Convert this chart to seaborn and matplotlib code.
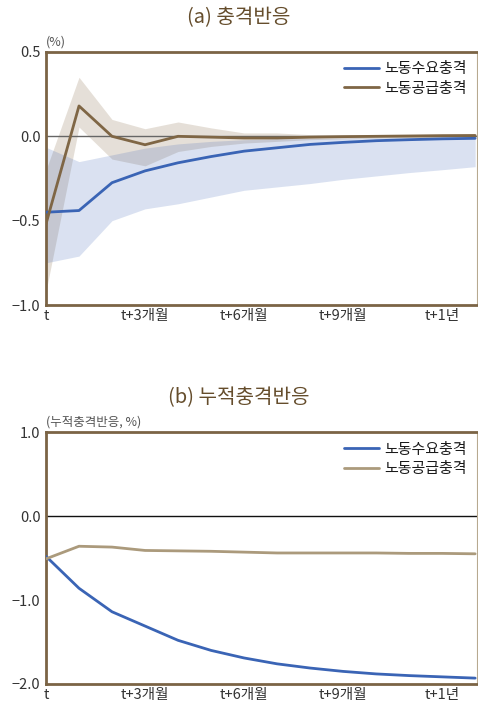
import numpy as np
import pandas as pd
import matplotlib
matplotlib.use("Agg")
import matplotlib.pyplot as plt
import seaborn as sns

sns.set_style("white")
plt.rcParams["font.family"] = ["Noto Sans CJK KR", "DejaVu Sans"]
plt.rcParams["axes.unicode_minus"] = True

# months after the shock
months = list(range(14))

# (a) impulse responses with confidence bands (%)
demand_irf = [-0.45, -0.44, -0.275, -0.205, -0.157, -0.12, -0.088, -0.068,
              -0.048, -0.036, -0.026, -0.02, -0.015, -0.012]
demand_lo = [-0.75, -0.71, -0.50, -0.43, -0.40, -0.36, -0.32, -0.30,
             -0.28, -0.255, -0.235, -0.215, -0.198, -0.18]
demand_hi = [-0.065, -0.15, -0.11, -0.07, -0.045, -0.03, -0.02, -0.015,
             -0.012, -0.01, -0.008, -0.006, -0.005, -0.004]

supply_irf = [-0.52, 0.18, 0.0, -0.05, 0.0, -0.005, -0.01, -0.01,
              -0.005, -0.002, 0.0, 0.002, 0.004, 0.005]
supply_lo = [-0.92, 0.055, -0.135, -0.175, -0.09, -0.06, -0.04, -0.03,
             -0.02, -0.015, -0.01, -0.008, -0.006, -0.005]
supply_hi = [-0.2, 0.35, 0.10, 0.045, 0.085, 0.05, 0.02, 0.02,
             0.01, 0.008, 0.008, 0.01, 0.012, 0.012]

# (b) cumulative responses (%)
demand_cum = [-0.48, -0.86, -1.14, -1.31, -1.48, -1.60, -1.69, -1.76,
              -1.81, -1.85, -1.88, -1.90, -1.915, -1.93]
supply_cum = [-0.51, -0.36, -0.37, -0.41, -0.415, -0.42, -0.43, -0.44,
              -0.44, -0.44, -0.44, -0.445, -0.445, -0.45]

tick_pos = [0, 3, 6, 9, 12]
tick_labels = ["t", "t+3개월", "t+6개월", "t+9개월", "t+1년"]
series_names = ["노동수요충격", "노동공급충격"]

BLUE = "#3a64b5"
BROWN = "#7f6645"
TAN = "#ab9a7c"
SPINE = "#7b6445"
TITLE_C = "#654d2c"

fig = plt.figure(figsize=(4.78, 7.08), dpi=100)
ax_a = fig.add_axes([0.0962, 0.5692, 0.902, 0.3574])
ax_b = fig.add_axes([0.0962, 0.0339, 0.902, 0.3559])


def style_axes(ax, yticks, ylabels):
    ax.set_xlim(0, 13.06)
    ax.set_xticks(tick_pos)
    ax.set_xticklabels(tick_labels)
    ax.set_yticks(yticks)
    ax.set_yticklabels(ylabels)
    ax.tick_params(axis="both", direction="in", length=4, width=1.2,
                   color=SPINE, labelsize=10.5, labelcolor="#333333", pad=3)
    ax.tick_params(axis="y", pad=4)
    for side in ["left", "top", "bottom"]:
        ax.spines[side].set_color(SPINE)
        ax.spines[side].set_linewidth(2.0)
    ax.spines["right"].set_color("#b7a990")
    ax.spines["right"].set_linewidth(0.8)
    ax.set_xlabel("")
    ax.set_ylabel("")
    leg = ax.legend(loc="upper right", frameon=False, fontsize=10.8,
                    handlelength=2.3, handletextpad=0.35, labelspacing=0.35,
                    borderaxespad=0.3)
    for t in leg.get_texts():
        t.set_color("#1a1a1a")


# ---- (a) impulse responses
df_a = pd.DataFrame({
    "month": months * 2,
    "value": demand_irf + supply_irf,
    "shock": [series_names[0]] * 14 + [series_names[1]] * 14,
})
ax_a.fill_between(months, supply_lo, supply_hi, color=(0.50, 0.39, 0.235), alpha=0.2,
                  linewidth=0, zorder=1)
ax_a.fill_between(months, demand_lo, demand_hi, color=(0.23, 0.39, 0.71), alpha=0.19,
                  linewidth=0, zorder=1.1)
ax_a.axhline(0, color="#666666", linewidth=1.0, zorder=1.5)
sns.lineplot(data=df_a, x="month", y="value", hue="shock",
             palette=[BLUE, BROWN], linewidth=2.0, ax=ax_a, zorder=3)
ax_a.set_ylim(-1.0, 0.5)
style_axes(ax_a, [-1.0, -0.5, 0.0, 0.5], ["−1.0", "−0.5", "0.0", "0.5"])
fig.text(0.5, 1 - 18 / 708, "(a) 충격반응", color=TITLE_C, fontsize=14.5,
         ha="center", va="center")
ax_a.text(0.0, 1.012, "(%)", transform=ax_a.transAxes, fontsize=9,
          color="#555555", ha="left", va="bottom")

# ---- (b) cumulative responses
df_b = pd.DataFrame({
    "month": months * 2,
    "value": demand_cum + supply_cum,
    "shock": [series_names[0]] * 14 + [series_names[1]] * 14,
})
ax_b.axhline(0, color="#111111", linewidth=1.0, zorder=1.5)
sns.lineplot(data=df_b, x="month", y="value", hue="shock",
             palette=[BLUE, TAN], linewidth=2.0, ax=ax_b, zorder=3)
ax_b.set_ylim(-2.0, 1.0)
style_axes(ax_b, [-2.0, -1.0, 0.0, 1.0], ["−2.0", "−1.0", "0.0", "1.0"])
fig.text(0.5, 1 - 398 / 708, "(b) 누적충격반응", color=TITLE_C, fontsize=14.5,
         ha="center", va="center")
ax_b.text(0.0, 1.012, "(누적충격반응, %)", transform=ax_b.transAxes, fontsize=9,
          color="#555555", ha="left", va="bottom")

fig.savefig("out.png", dpi=100)
